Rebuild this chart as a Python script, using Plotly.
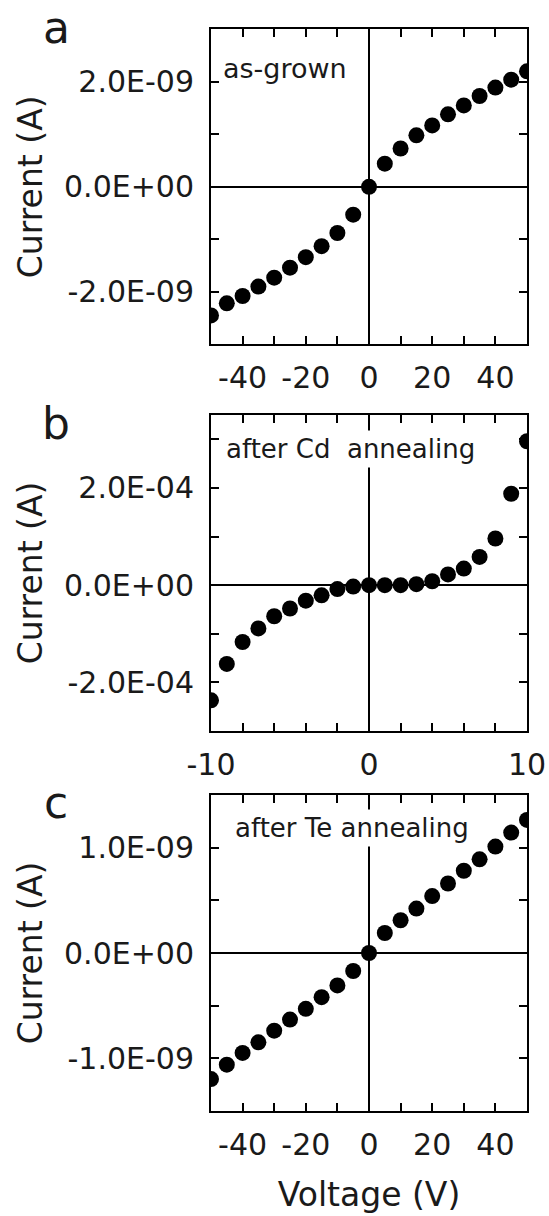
import plotly.graph_objects as go

# ---------------- data ----------------
voltage_a = [-50, -45, -40, -35, -30, -25, -20, -15, -10, -5, 0, 5, 10, 15, 20, 25, 30, 35, 40, 45, 50]
current_a = [-2.45e-9, -2.22e-9, -2.08e-9, -1.90e-9, -1.73e-9, -1.54e-9, -1.34e-9, -1.13e-9, -0.88e-9, -0.53e-9,
             0.0, 0.44e-9, 0.73e-9, 0.98e-9, 1.17e-9, 1.38e-9, 1.55e-9, 1.73e-9, 1.89e-9, 2.04e-9, 2.20e-9]

voltage_b = [-10, -9, -8, -7, -6, -5, -4, -3, -2, -1, 0, 1, 2, 3, 4, 5, 6, 7, 8, 9, 10]
current_b = [-2.37e-4, -1.62e-4, -1.17e-4, -0.89e-4, -0.64e-4, -0.48e-4, -0.32e-4, -0.21e-4, -0.08e-4, -0.03e-4,
             0.0, 0.0, 0.0, 0.02e-4, 0.08e-4, 0.22e-4, 0.34e-4, 0.58e-4, 0.96e-4, 1.88e-4, 2.96e-4]

voltage_c = [-50, -45, -40, -35, -30, -25, -20, -15, -10, -5, 0, 5, 10, 15, 20, 25, 30, 35, 40, 45, 50]
current_c = [-1.197e-9, -1.06e-9, -0.949e-9, -0.848e-9, -0.737e-9, -0.632e-9, -0.530e-9, -0.419e-9, -0.308e-9, -0.171e-9,
             0.0, 0.19e-9, 0.311e-9, 0.422e-9, 0.54e-9, 0.66e-9, 0.781e-9, 0.889e-9, 1.01e-9, 1.143e-9, 1.263e-9]

xtick_vals_ac = [-40, -30, -20, -10, 0, 10, 20, 30, 40]
xtick_text_ac = ["-40", "", "-20", "", "0", "", "20", "", "40"]
xtick_vals_b = [-10, -8, -6, -4, -2, 0, 2, 4, 6, 8, 10]
xtick_text_b = ["-10", "", "", "", "", "0", "", "", "", "", "10"]

ytick_vals_a = [-3e-9, -2e-9, -1e-9, 0, 1e-9, 2e-9, 3e-9]
ytick_text_a = ["", "-2.0E-09", "", "0.0E+00", "", "2.0E-09", ""]
ytick_vals_b = [-3e-4, -2e-4, -1e-4, 0, 1e-4, 2e-4, 3e-4]
ytick_text_b = ["", "-2.0E-04", "", "0.0E+00", "", "2.0E-04", ""]
ytick_vals_c = [-1.5e-9, -1e-9, -0.5e-9, 0, 0.5e-9, 1e-9, 1.5e-9]
ytick_text_c = ["", "-1.0E-09", "", "0.0E+00", "", "1.0E-09", ""]

panel_letters = ["a", "b", "c"]
panel_notes = ["as-grown", "after Cd\u00a0 annealing", "after Te annealing"]
y_title = "Current (A)"
x_title = "Voltage (V)"

# ---------------- styling ----------------
FONT = "DejaVu Sans, Verdana, sans-serif"
INK = "#1a1a1a"
W, H = 549, 1216

x_dom = [211 / W, 527 / W]
def ydom(top, bottom):
    return [(H - bottom) / H, (H - top) / H]

dom_a = ydom(29.3, 344.3)
dom_b = ydom(415, 731)
dom_c = ydom(795, 1111)

axis_common = dict(
    showline=True, linecolor="black", linewidth=2, mirror="allticks",
    ticks="inside", ticklen=8, tickwidth=1.5, tickcolor="black",
    showgrid=False, zeroline=True, zerolinecolor="black", zerolinewidth=2,
    tickfont=dict(size=30, family=FONT, color=INK), tickmode="array",
    automargin=False,
)

fig = go.Figure()
marker = dict(size=16, color="black", line=dict(width=0))
fig.add_trace(go.Scatter(x=voltage_a, y=current_a, mode="markers", marker=marker, xaxis="x", yaxis="y", showlegend=False))
fig.add_trace(go.Scatter(x=voltage_b, y=current_b, mode="markers", marker=marker, xaxis="x2", yaxis="y2", showlegend=False))
fig.add_trace(go.Scatter(x=voltage_c, y=current_c, mode="markers", marker=marker, xaxis="x3", yaxis="y3", showlegend=False))

ytitle = dict(text=y_title, font=dict(size=33, family=FONT, color=INK), standoff=11)

fig.update_layout(
    width=W, height=H,
    margin=dict(l=0, r=0, t=0, b=0, autoexpand=False),
    paper_bgcolor="white", plot_bgcolor="white",
    xaxis=dict(axis_common, domain=x_dom, anchor="y", range=[-50, 50], tickvals=xtick_vals_ac, ticktext=xtick_text_ac, ticklabelstandoff=6),
    yaxis=dict(axis_common, domain=dom_a, anchor="x", range=[-3e-9, 3e-9], tickvals=ytick_vals_a, ticktext=ytick_text_a, title=ytitle, ticklabelstandoff=9),
    xaxis2=dict(axis_common, domain=x_dom, anchor="y2", range=[-10, 10], tickvals=xtick_vals_b, ticktext=xtick_text_b, ticklabelstandoff=6),
    yaxis2=dict(axis_common, domain=dom_b, anchor="x2", range=[-3e-4, 3.5e-4], tickvals=ytick_vals_b, ticktext=ytick_text_b, title=ytitle, ticklabelstandoff=9),
    xaxis3=dict(axis_common, domain=x_dom, anchor="y3", range=[-50, 50], tickvals=xtick_vals_ac, ticktext=xtick_text_ac, ticklabelstandoff=6,
                title=dict(text=x_title, font=dict(size=33, family=FONT, color=INK), standoff=22)),
    yaxis3=dict(axis_common, domain=dom_c, anchor="x3", range=[-1.5e-9, 1.5e-9], tickvals=ytick_vals_c, ticktext=ytick_text_c, title=ytitle, ticklabelstandoff=9),
)

# panel letters
for letter, ycen in zip(panel_letters, [28, 424, 802]):
    fig.add_annotation(text=letter, xref="paper", yref="paper", x=56 / W, y=1 - ycen / H,
                       xanchor="center", yanchor="middle", showarrow=False,
                       font=dict(size=44, family=FONT, color=INK))

# in-panel notes (white box hides the zero line beneath)
note_pos = [("x", "y", 0.024, 0.874), ("x2", "y2", 0.036, 0.892), ("x3", "y3", 0.064, 0.896)]
note_sizes = [27, 26, 26]
for note, (xr, yr, xp, yp), fs in zip(panel_notes, note_pos, note_sizes):
    fig.add_annotation(text=note, xref=f"{xr} domain", yref=f"{yr} domain", x=xp, y=yp,
                       xanchor="left", yanchor="middle", showarrow=False,
                       bgcolor="white", borderpad=3,
                       font=dict(size=fs, family=FONT, color=INK))

fig.write_html("out.html", config={"displayModeBar": False},
               post_script="document.body.style.margin='0';document.body.style.overflow='hidden';")
